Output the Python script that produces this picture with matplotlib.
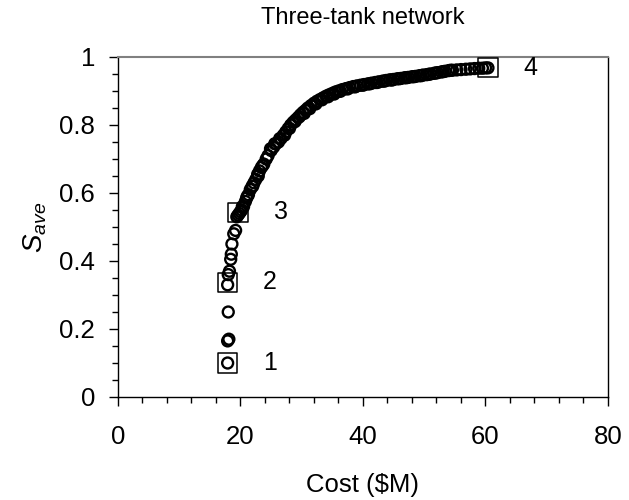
import matplotlib
matplotlib.use("Agg")
import matplotlib.pyplot as plt
from matplotlib.ticker import MultipleLocator, FuncFormatter

plt.rcParams['font.family'] = ['Liberation Sans', 'DejaVu Sans']
plt.rcParams['mathtext.fontset'] = 'custom'
plt.rcParams['mathtext.it'] = 'Liberation Sans:italic'
plt.rcParams['mathtext.rm'] = 'Liberation Sans'

# Pareto front solutions (cost in $M, S_ave)
cost = [17.9, 17.9, 18.1, 18.0, 17.9, 18.0, 18.2, 18.4, 18.5, 18.6, 18.9, 19.2,
        19.4, 19.6, 19.8, 20.0, 20.2, 20.5, 20.8, 21.0, 21.3, 21.6, 21.9, 22.2,
        22.5, 22.8, 23.1, 23.4, 23.8, 24.2, 24.5, 25.0, 25.4, 25.8, 26.2, 26.6,
        27.0, 27.4, 27.8, 28.2, 28.6, 29.0, 29.4, 29.8, 30.2, 30.6, 31.0, 31.5,
        32.0, 32.5, 33.0, 33.5, 34.0, 34.5, 35.0, 35.5, 36.0, 36.6, 37.2, 37.8,
        38.4, 39.0, 39.6, 40.2, 40.8, 41.4, 42.0, 42.6, 43.2, 43.8, 44.4, 45.0,
        45.6, 46.2, 46.8, 47.4, 48.0, 48.6, 49.2, 49.8, 50.4, 51.0, 51.6, 52.2,
        52.8, 53.4, 54.0, 54.6, 55.3, 56.0, 56.8, 57.5, 58.2, 58.9, 59.5, 60.0,
        60.4,
        20.3, 21.1, 22.0, 22.9, 23.6, 24.9, 25.6, 26.4, 27.2, 28.0, 28.9, 29.6,
        30.4, 31.3, 32.3, 33.3, 34.3, 35.3, 36.3, 37.5, 38.7, 40.0, 41.1, 42.3,
        43.5, 44.7, 45.9, 47.1, 48.3, 49.5, 50.7, 51.9, 53.1, 54.3]
s_ave = [0.100, 0.165, 0.170, 0.250, 0.330, 0.360, 0.370, 0.405, 0.420, 0.450, 0.480, 0.490,
         0.530, 0.535, 0.540, 0.545, 0.550, 0.560, 0.575, 0.585, 0.595, 0.610, 0.620, 0.630,
         0.640, 0.655, 0.665, 0.675, 0.685, 0.700, 0.710, 0.725, 0.735, 0.745, 0.750, 0.760,
         0.770, 0.780, 0.790, 0.800, 0.808, 0.815, 0.822, 0.830, 0.837, 0.843, 0.850, 0.857,
         0.864, 0.870, 0.875, 0.880, 0.885, 0.889, 0.893, 0.897, 0.900, 0.904, 0.907, 0.910,
         0.913, 0.915, 0.917, 0.919, 0.921, 0.923, 0.925, 0.927, 0.929, 0.931, 0.933, 0.934,
         0.936, 0.937, 0.939, 0.940, 0.942, 0.943, 0.945, 0.947, 0.948, 0.950, 0.952, 0.954,
         0.956, 0.958, 0.960, 0.961, 0.962, 0.963, 0.964, 0.965, 0.966, 0.967, 0.967, 0.968,
         0.968,
         0.560, 0.590, 0.620, 0.650, 0.680, 0.730, 0.745, 0.760, 0.770, 0.790, 0.810, 0.824,
         0.834, 0.848, 0.862, 0.874, 0.883, 0.891, 0.899, 0.906, 0.912, 0.917, 0.921, 0.925,
         0.929, 0.932, 0.936, 0.939, 0.942, 0.945, 0.949, 0.953, 0.957, 0.961]

# Highlighted solutions
sel_labels = ["1", "2", "3", "4"]
sel_cost = [17.9, 17.9, 19.6, 60.4]
sel_s = [0.100, 0.338, 0.543, 0.968]

fig = plt.figure(figsize=(6.29, 5.0), dpi=100)
ax = fig.add_axes([0.1876, 0.206, 0.779, 0.680])

ax.scatter(cost, s_ave, s=62, facecolors='none', edgecolors='black', linewidths=1.7, zorder=3)
ax.scatter(sel_cost, sel_s, s=190, marker='s', facecolors='none', edgecolors='black',
           linewidths=1.1, zorder=4)
for lab, cx, cy in zip(sel_labels, sel_cost, sel_s):
    ax.text(cx + 5.8, cy, lab, fontsize=18, va='center', ha='left')

ax.set_xlim(0, 80)
ax.set_ylim(0, 1)
ax.xaxis.set_major_locator(MultipleLocator(20))
ax.xaxis.set_minor_locator(MultipleLocator(4))
ax.yaxis.set_major_locator(MultipleLocator(0.2))
ax.yaxis.set_minor_locator(MultipleLocator(0.05))
ax.yaxis.set_major_formatter(FuncFormatter(lambda v, p: "0" if abs(v) < 1e-9 else ("1" if abs(v - 1) < 1e-9 else f"{v:.1f}")))

ax.tick_params(axis='both', which='major', direction='out', length=6.5, width=1.0,
               labelsize=18.5, color='black')
ax.tick_params(axis='both', which='minor', direction='out', length=4.3, width=1.0, color='black')
ax.tick_params(axis='x', which='major', pad=14)
ax.tick_params(axis='y', which='major', pad=10)

for side in ['left', 'bottom', 'right']:
    ax.spines[side].set_color('black')
    ax.spines[side].set_linewidth(1.0)
ax.spines['top'].set_color('#808080')
ax.spines['top'].set_linewidth(1.5)

ax.set_xlabel('Cost ($M)', fontsize=18.5, labelpad=17)
ax.set_ylabel(r'$S_{ave}$', fontsize=20, labelpad=7)
ax.set_title('Three-tank network', fontsize=17, pad=24)

fig.savefig('out.png', dpi=100)
